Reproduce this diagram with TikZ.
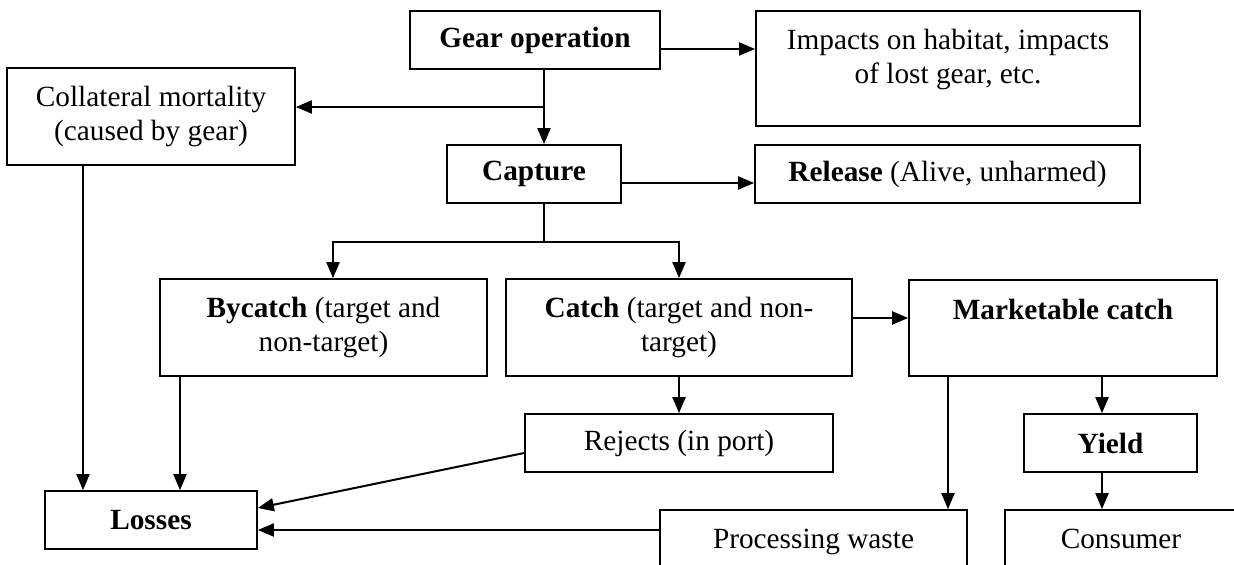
\documentclass[tikz,border=0pt]{standalone}
\usepackage{fontspec}
\setmainfont{Liberation Serif}
\usetikzlibrary{arrows.meta}
\begin{document}
\begin{tikzpicture}[x=0.5pt,y=-0.5pt]
\tikzset{
  box/.style={draw, line width=0.85pt, inner sep=0pt, font=\fontsize{14.65}{16.85}\selectfont},
  arr/.style={line width=1pt, -{Triangle[length=8pt,width=6.5pt]}},
  ln/.style={line width=1pt}
}
\useasboundingbox (0,0) rectangle (1234,565);
\path[fill=white] (0,0) rectangle (1234,565);

% boxes
\node[box, minimum width=125pt, minimum height=29pt] (gear) at (535,40) {\textbf{Gear operation}};
\node[box] (impacts) at (948,68.5) {\begin{minipage}[t][57.5pt][t]{192pt}\centering\rule{0pt}{19.5pt}Impacts on habitat, impacts\\of lost gear, etc.\end{minipage}};
\node[box, align=center, minimum width=144pt, minimum height=48.5pt] (collat) at (151,116.5) {Collateral mortality\\(caused by gear)};
\node[box, minimum width=87pt, minimum height=29pt] (capture) at (534,174) {\textbf{Capture}};
\node[box, minimum width=192.5pt, minimum height=29pt] (release) at (947.5,174) {\textbf{Release} (Alive, unharmed)};
\node[box, align=center, minimum width=163.5pt, minimum height=48.5pt] (bycatch) at (323.5,327.5) {\textbf{Bycatch} (target and\\non-target)};
\node[box, align=center, minimum width=173pt, minimum height=48.5pt] (catch) at (679,327.5) {\textbf{Catch} (target and non-\\target)};
\node[box, minimum width=154pt, text height=20pt, text depth=28pt] (market) at (1063,328) {\textbf{Marketable catch}};
\node[box, minimum width=154pt, minimum height=29pt] (rejects) at (679,443) {Rejects (in port)};
\node[box, minimum width=86.5pt, minimum height=29pt] (yield) at (1110.5,443) {\textbf{Yield}};
\node[box, minimum width=106pt, minimum height=29pt] (losses) at (151,520) {\textbf{Losses}};
\node[box, minimum width=153.5pt, text height=19pt, text depth=26pt] (waste) at (813.5,555) {Processing waste};
\node[box, minimum width=116pt, text height=19pt, text depth=26pt] (consumer) at (1121,555) {Consumer};

% connectors
\coordinate (j1) at (544,107);
\coordinate (j2) at (544,242);
\draw[arr] (gear.east |- 0,49) -- (impacts.west |- 0,49);
\draw[arr] (544,0 |- gear.south) -- (544,0 |- capture.north);
\draw[arr] (j1) -- (j1 -| collat.east);
\draw[arr] (capture.east |- 0,183) -- (release.west |- 0,183);
\draw[ln] (544,0 |- capture.south) -- (j2);
\draw[arr] (j2) -| (333,0 |- bycatch.north);
\draw[arr] (j2) -| (catch.north);
\draw[arr] (catch.east |- 0,318) -- (market.west |- 0,318);
\draw[arr] (catch.south) -- (rejects.north);
\draw[arr] (948,0 |- market.south) -- (948,0 |- waste.north);
\draw[arr] (1102,0 |- market.south) -- (1102,0 |- yield.north);
\draw[arr] (1102,0 |- yield.south) -- (1102,0 |- consumer.north);
\draw[arr] (83,0 |- collat.south) -- (83,0 |- losses.north);
\draw[arr] (180,0 |- bycatch.south) -- (180,0 |- losses.north);
\draw[arr] (rejects.west |- 0,453) -- (losses.east |- 0,508);
\draw[arr] (waste.west |- 0,530) -- (losses.east |- 0,530);
\end{tikzpicture}
\end{document}
